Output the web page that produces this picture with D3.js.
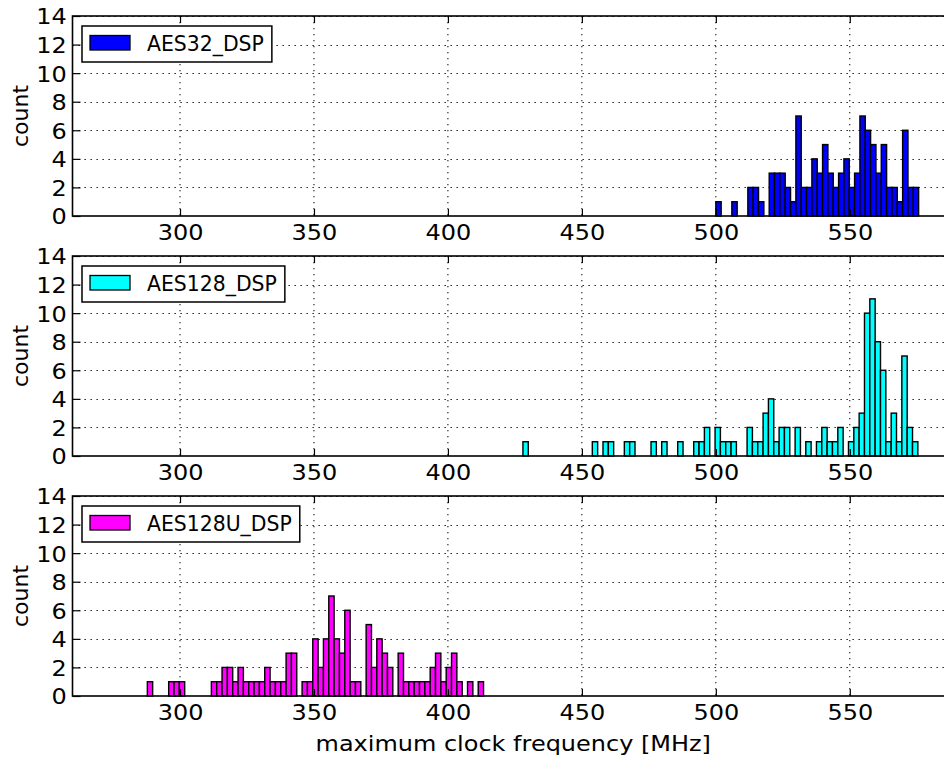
<!DOCTYPE html>
<html><head><meta charset="utf-8">
<script src="https://cdn.jsdelivr.net/npm/d3@7"></script>
<style>
body{margin:0;background:#fff;}
svg{display:block;}
text{font-family:"DejaVu Sans","Bitstream Vera Sans",sans-serif;fill:#000;}
</style>
</head><body>
<svg id="chart" width="944" height="758"></svg>
<script>
// ---- data ----
const seriesNames = ["AES32_DSP", "AES128_DSP", "AES128U_DSP"];
const seriesColors = ["#0000ff", "#00ffff", "#ff00ff"];
const binStarts = [500.0, 428.0, 287.8];   // lower edge of first bin (MHz)
const binWidth = 1.992;                     // MHz
const countsAES32 = [1,0,0,1,0,0,2,2,1,0,3,3,3,2,1,7,2,2,4,3,5,3,2,3,4,2,3,7,6,5,3,5,2,2,1,6,2,2];
const countsAES128 = [1,0,0,0,0,0,0,0,0,0,0,0,0,1,0,1,1,0,0,1,1,0,0,0,1,0,1,0,0,1,0,0,1,1,2,0,
                      2,1,1,1,0,0,2,1,1,3,4,1,2,2,0,2,0,1,0,1,2,1,1,2,0,1,2,3,10,11,8,6,1,3,1,7,2,1];
const countsAES128U = [1,0,0,0,1,1,1,0,0,0,0,0,1,1,2,2,1,2,1,1,1,1,2,1,1,1,3,3,0,1,1,4,2,4,7,4,3,6,1,1,0,
                       5,2,4,3,2,0,3,1,1,1,1,1,2,3,1,2,3,1,0,1,0,1];
const xTicks = [300, 350, 400, 450, 500, 550];
const yTicks = [0, 2, 4, 6, 8, 10, 12, 14];
const xDomain = [259.87, 588.9];
const yDomain = [0, 14];
const xLabel = "maximum clock frequency [MHz]";
const yLabel = "count";

const allCounts = [countsAES32, countsAES128, countsAES128U];

// ---- layout ----
const svg = d3.select("#chart");
const left = 72.5, right = 954;
const panelTops = [16, 256, 496];
const panelH = 200;
const S = 1.09; // slight horizontal text stretch seen in reference
const x = d3.scaleLinear().domain(xDomain).range([left, right]);

allCounts.forEach((counts, p) => {
  const top = panelTops[p], bottom = top + panelH;
  const y = d3.scaleLinear().domain(yDomain).range([bottom, top]);
  const g = svg.append("g");

  // grid
  g.append("g").selectAll("line").data(yTicks.slice(1)).join("line")
    .attr("x1", left).attr("x2", right)
    .attr("y1", d => Math.round(y(d)) + 0.5).attr("y2", d => Math.round(y(d)) + 0.5)
    .attr("stroke", "#000").attr("stroke-width", 1).attr("stroke-dasharray", "1.3,4.7");
  g.append("g").selectAll("line").data(xTicks).join("line")
    .attr("x1", d => x(d)).attr("x2", d => x(d))
    .attr("y1", top).attr("y2", bottom)
    .attr("stroke", "#000").attr("stroke-width", 1).attr("stroke-dasharray", "1.3,4.7");

  // bars
  const bins = counts.map((c, i) => ({
    x0: binStarts[p] + i * binWidth,
    x1: binStarts[p] + (i + 1) * binWidth,
    c: c
  })).filter(d => d.c > 0);
  g.append("g").selectAll("rect").data(bins).join("rect")
    .attr("x", d => x(d.x0)).attr("width", d => x(d.x1) - x(d.x0))
    .attr("y", d => y(d.c)).attr("height", d => y(0) - y(d.c))
    .attr("fill", seriesColors[p]).attr("stroke", "#000").attr("stroke-width", 1.4);

  // axes
  const axB = g.append("g").attr("transform", `translate(0,${bottom})`)
    .call(d3.axisBottom(x).tickValues(xTicks).tickSize(-7).tickPadding(0).tickFormat(d3.format("d")));
  axB.select(".domain").remove();
  axB.selectAll("line").attr("stroke", "#000").attr("stroke-width", 1.2);
  axB.selectAll("text").attr("y", 24).attr("dy", null)
    .attr("font-size", 22).attr("transform", `scale(${S},1)`);

  const axT = g.append("g").attr("transform", `translate(0,${top})`)
    .call(d3.axisTop(x).tickValues(xTicks).tickSize(-7).tickFormat(""));
  axT.select(".domain").remove();
  axT.selectAll("line").attr("stroke", "#000").attr("stroke-width", 1.2);

  const axL = g.append("g").attr("transform", `translate(${left},0)`)
    .call(d3.axisLeft(y).tickValues(yTicks).tickSize(-8).tickPadding(5.3).tickFormat(d3.format("d")));
  axL.select(".domain").remove();
  axL.selectAll("line").attr("stroke", "#000").attr("stroke-width", 1.2);
  axL.selectAll("text").attr("dy", "0.36em")
    .attr("font-size", 22).attr("transform", `scale(${S},1)`);

  // frame
  g.append("rect").attr("x", left).attr("y", top).attr("width", right - left).attr("height", panelH)
    .attr("fill", "none").attr("stroke", "#000").attr("stroke-width", 1.6);

  // y label
  g.append("text").attr("transform", `translate(28,${top + panelH / 2}) rotate(-90)`)
    .attr("text-anchor", "middle").attr("font-size", 22).text(yLabel);

  // legend
  const lg = g.append("g");
  const box = lg.append("rect").attr("x", 82).attr("y", top + 10).attr("height", 36)
    .attr("fill", "#fff").attr("stroke", "#000").attr("stroke-width", 1.5);
  lg.append("rect").attr("x", 90).attr("y", top + 19.5).attr("width", 40).attr("height", 14.5)
    .attr("fill", seriesColors[p]).attr("stroke", "#000").attr("stroke-width", 1.3);
  const lt = lg.append("text").attr("x", 147).attr("y", top + 34.5)
    .attr("font-size", 20.4).text(seriesNames[p]);
  const w = lt.node().getBBox().width;
  box.attr("width", 147 + w + 8 - 82);
});

// x label
svg.append("text").attr("transform", `translate(${(left + right) / 2},751) scale(${S},1)`)
  .attr("text-anchor", "middle").attr("font-size", 22).text(xLabel);
</script>
</body></html>
